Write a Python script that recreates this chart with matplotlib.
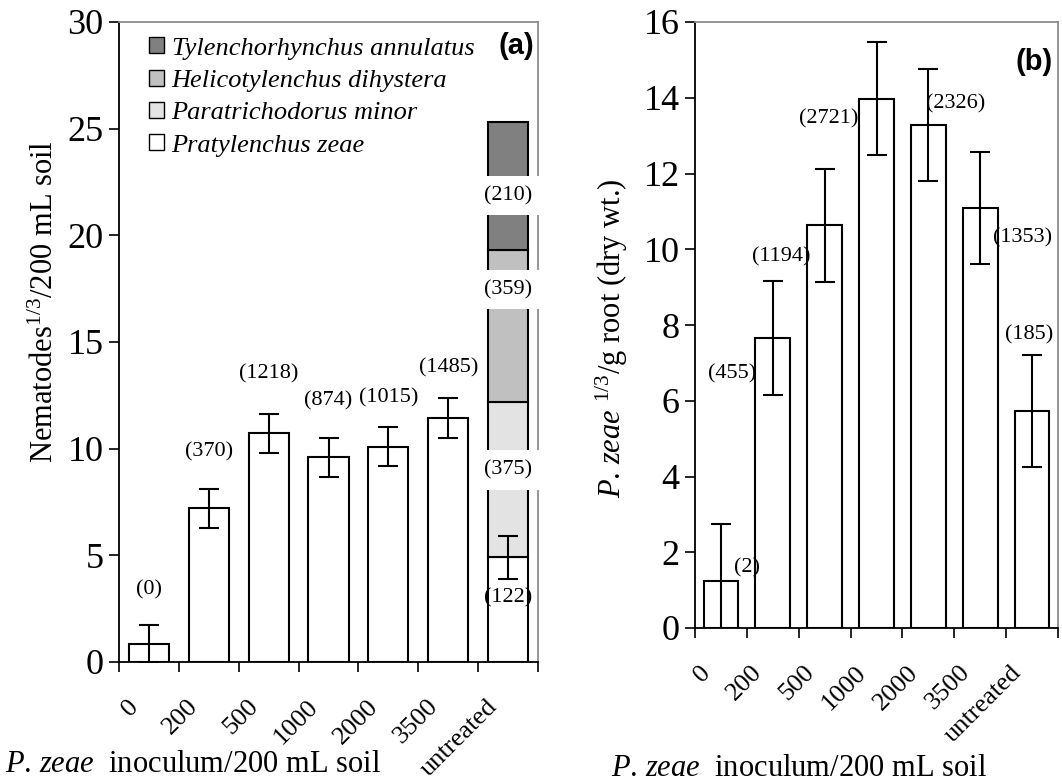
import matplotlib
matplotlib.use('Agg')
import matplotlib.pyplot as plt
import numpy as np
from matplotlib.transforms import ScaledTranslation
from matplotlib.patches import Patch

plt.rcParams['font.family'] = ['Liberation Serif', 'DejaVu Serif']
plt.rcParams['mathtext.fontset'] = 'custom'
plt.rcParams['mathtext.rm'] = 'Liberation Serif'
plt.rcParams['mathtext.it'] = 'Liberation Serif:italic'

# ---------------- data ----------------
categories = ['0', '200', '500', '1000', '2000', '3500', 'untreated']

# panel (a): P. zeae in soil (cube-root transformed), counts in brackets
pz_soil = [0.84, 7.2, 10.72, 9.6, 10.1, 11.45, 4.9]
pz_soil_err = [0.9, 0.92, 0.9, 0.92, 0.92, 0.93, 1.0]
pz_soil_counts = ['(0)', '(370)', '(1218)', '(874)', '(1015)', '(1485)', '(122)']

# other species in untreated plots (stacked above P. zeae)
other_species = ['Paratrichodorus minor', 'Helicotylenchus dihystera',
                 'Tylenchorhynchus annulatus']
other_values = [7.3, 7.1, 6.0]
other_counts = ['(375)', '(359)', '(210)']

# panel (b): P. zeae per g root
pz_root = [1.25, 7.65, 10.63, 13.98, 13.27, 11.09, 5.73]
pz_root_err = [1.5, 1.5, 1.5, 1.48, 1.48, 1.47, 1.49]
pz_root_counts = ['(2)', '(455)', '(1194)', '(2721)', '(2326)', '(1353)', '(185)']

# ---------------- layout / style ----------------
soil_label_y = [3.4, 9.85, 13.5, 12.24, 12.4, 13.8, 3.0]
other_label_y = [9.0, 17.45, 21.85]
other_colors = ['#e3e3e3', '#c0c0c0', '#808080']
root_label_x = [0.25, 0.68, 1.72, 2.66, 3.96, 5.25, 5.95]
root_label_y = [1.6, 6.71, 9.8, 13.45, 13.85, 10.3, 7.73]
root_label_ha = ['left', 'right', 'right', 'right', 'left', 'left', 'center']

W, H = 1062, 784
fig = plt.figure(figsize=(W / 100, H / 100), dpi=100)

BAR_W = 0.67
LW = 1.5
GREY = '#8c8c8c'


def style_axes(ax, ymax, ystep):
    n = len(categories)
    x = np.arange(n)
    ax.set_xlim(-0.5, n - 0.5)
    ax.set_ylim(0, ymax)
    ax.set_yticks(np.arange(0, ymax + 0.001, ystep))
    ax.set_xticks(x)
    ax.set_xticklabels(categories, rotation=45, ha='right', va='top', fontsize=19)
    ax.set_xticks(np.arange(-0.5, n, 1.0), minor=True)
    ax.tick_params(axis='x', which='major', length=0, pad=24)
    ax.tick_params(axis='x', which='minor', length=7, width=1.2, direction='out')
    ax.tick_params(axis='y', which='major', length=7, width=1.2, direction='out',
                   labelsize=26, pad=4)
    off = ScaledTranslation(-6 / 100, 0, fig.dpi_scale_trans)
    for lab in ax.get_xticklabels():
        lab.set_transform(lab.get_transform() + off)
    for s in ('left', 'bottom'):
        ax.spines[s].set_linewidth(1.3)
        ax.spines[s].set_color('black')
    for s in ('top', 'right'):
        ax.spines[s].set_linewidth(1.3)
        ax.spines[s].set_color(GREY)


# ---------------- panel (a) ----------------
ax1 = fig.add_axes([119 / W, 122 / H, 419 / W, 640 / H])
x = np.arange(len(categories))
ax1.bar(x, pz_soil, width=BAR_W, color='white', edgecolor='black',
        linewidth=LW, zorder=2)
bottom = pz_soil[-1]
for val, col in zip(other_values, other_colors):
    ax1.bar(x[-1], val, bottom=bottom, width=BAR_W, color=col,
            edgecolor='black', linewidth=LW, zorder=2)
    bottom += val
ax1.errorbar(x, pz_soil, yerr=pz_soil_err, fmt='none', ecolor='black',
             elinewidth=LW, capsize=7, capthick=LW, zorder=4)
for xi, yi, t in zip(x, soil_label_y, pz_soil_counts):
    ax1.text(xi, yi, t, ha='center', va='center', fontsize=16, zorder=5)
for yi, t in zip(other_label_y, other_counts):
    ax1.text(x[-1], yi, t, ha='center', va='center', fontsize=16, zorder=5,
             bbox=dict(facecolor='white', edgecolor='none',
                       boxstyle='square,pad=0.45'))
style_axes(ax1, 30, 5)

handles = [Patch(facecolor=c, edgecolor='black', linewidth=1.0)
           for c in other_colors[::-1]] + \
          [Patch(facecolor='white', edgecolor='black', linewidth=1.0)]
labels = other_species[::-1] + ['Pratylenchus zeae']
ax1.legend(handles, labels, loc='upper left', bbox_to_anchor=(0.072, 0.976),
           frameon=False, prop={'style': 'italic', 'size': 19},
           handlelength=0.55, handleheight=0.55, handletextpad=0.3,
           labelspacing=0.38, borderaxespad=0, borderpad=0)

fig.text(516 / W, 1 - 46 / H, '(a)', fontfamily='Liberation Sans',
         fontweight='bold', fontsize=21, ha='center', va='center')
fig.text(45 / W, 1 - 302 / H, 'Nematodes$^{1/3}$/200 mL soil', rotation=90,
         ha='center', va='center', fontsize=22)
fig.text(5 / W, 1 - 764 / H, '$P$. $zeae$  inoculum/200 mL soil',
         ha='left', va='center', fontsize=22)

# ---------------- panel (b) ----------------
ax2 = fig.add_axes([695 / W, 156 / H, 363 / W, 606 / H])
ax2.bar(x, pz_root, width=BAR_W, color='white', edgecolor='black',
        linewidth=LW, zorder=2)
ax2.errorbar(x, pz_root, yerr=pz_root_err, fmt='none', ecolor='black',
             elinewidth=LW, capsize=7, capthick=LW, zorder=4)
for xi, yi, t, ha in zip(root_label_x, root_label_y, pz_root_counts, root_label_ha):
    ax2.text(xi, yi, t, ha=ha, va='center', fontsize=16, zorder=5)
style_axes(ax2, 16, 2)

fig.text(1034 / W, 1 - 62 / H, '(b)', fontfamily='Liberation Sans',
         fontweight='bold', fontsize=21, ha='center', va='center')
fig.text(612 / W, 1 - 338 / H, '$P$. $zeae$ $^{1/3}$/g root (dry wt.)', rotation=90,
         ha='center', va='center', fontsize=22)
fig.text(611 / W, 1 - 768 / H, '$P$. $zeae$  inoculum/200 mL soil',
         ha='left', va='center', fontsize=22)

fig.savefig('out.png', dpi=100)
